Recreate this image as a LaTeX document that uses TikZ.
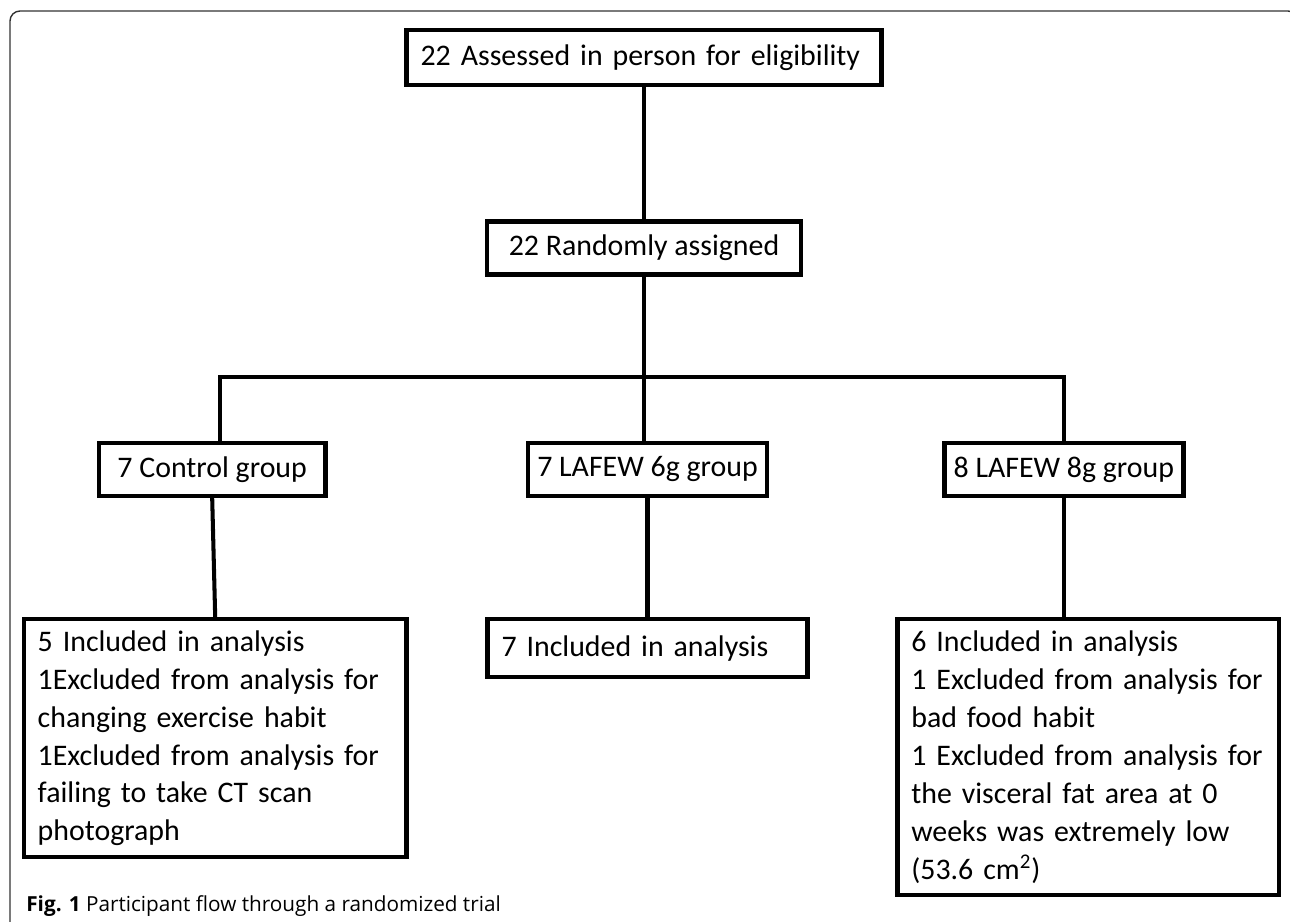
\documentclass[tikz,border=0pt]{standalone}
\usepackage{fontspec}
\setmainfont{Carlito}
\newfontfamily\capfont{Open Sans}
\usepackage{tikz}
\usetikzlibrary{positioning}
\definecolor{cFrame}{RGB}{50,50,50}
\tikzset{
  basebox/.style={rectangle,draw=black,line width=2.5pt,inner ysep=2pt,
                  font=\fontsize{17}{21.6}\selectfont},
  groupnode/.style={basebox,minimum height=1.06cm,inner xsep=0.14cm},
  resnode/.style={basebox,align=left,inner xsep=0.28cm},
  link/.style={line width=2.3pt,color=black},
  framearr/.style={cFrame,line width=0.8pt,rounded corners=0.2cm}
}
\begin{document}
\begin{tikzpicture}[x=0.02cm,y=-0.02cm]

  \useasboundingbox (0,0) rectangle (1290,921);
  \draw[framearr] (10,940) -- (10,11) -- (1298,11) -- (1298,940);

  \node[resnode,text width=8.94cm,minimum height=1.1cm,anchor=north] (elig)
      at (644,28) {22 Assessed in person for eligibility};
  \node[groupnode,minimum width=6.28cm,below=2.64cm of elig] (rand)
      {22 Randomly assigned};

  % Three arms
  \node[groupnode,minimum width=4.78cm,below=3.28cm of rand,xshift=0.07cm] (low6)
      {7 LAFEW 6g group};
  \node[groupnode,minimum width=4.54cm,left=3.96cm of low6] (ctrl)
      {7 Control group};
  \node[groupnode,minimum width=4.78cm,right=3.46cm of low6] (low8)
      {8 LAFEW 8g group};
  \coordinate (bar) at (646,377);

  % Analysis boxes
  \node[resnode,text width=7.1cm,minimum height=4.76cm,
        below=2.38cm of ctrl, xshift=0.06cm] (ctrl_an)
      {5 Included in analysis\\
       1Excluded from analysis for\\
       changing exercise habit\\
       1Excluded from analysis for\\
       failing to take CT scan\\
       photograph};
  \node[resnode,text width=5.84cm,minimum height=1.16cm,
        below=2.38cm of low6] (low6_an)
      {7 Included in analysis};
  \node[resnode,text width=7.08cm,minimum height=5.52cm,
        below=2.38cm of low8, xshift=0.49cm] (low8_an)
      {6 Included in analysis\\
       1 Excluded from analysis for\\
       bad food habit\\
       1 Excluded from analysis for\\
       the visceral fat area at 0\\
       weeks was extremely low\\
       (53.6 cm\textsuperscript{2})};

  \draw[link] (elig) -- (rand);
  \draw[link] (rand.south) -- (rand.south |- low6.north);
  \draw[link] ([xshift=0.15cm]ctrl.north) -- ([xshift=0.15cm]ctrl.north |- bar)
      -- (low8.north |- bar) -- (low8.north);
  \draw[link] (ctrl.south) -- (ctrl_an.north);
  \draw[link] (low6) -- (low6_an);
  \draw[link] (low8.south) -- (low8.south |- low8_an.north);

  \node[anchor=base west,inner sep=0,
        font=\capfont\fontsize{11.8}{13}\selectfont] (cap) at (26,911)
      {\textbf{Fig. 1} Participant flow through a randomized trial};

\end{tikzpicture}
\end{document}
